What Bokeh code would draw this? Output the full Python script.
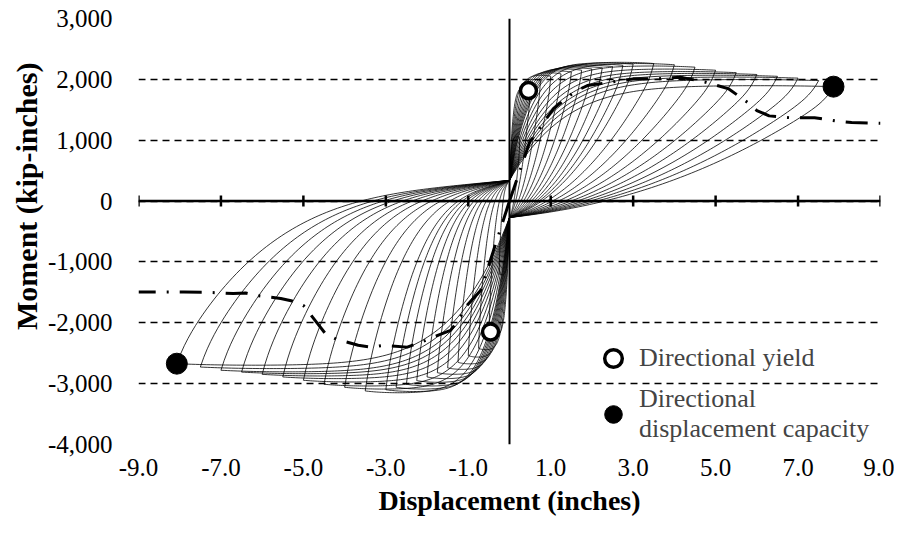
import numpy as np
from bokeh.plotting import figure
from bokeh.models import (Span, FixedTicker, Legend, LegendItem, Title,
                          NumeralTickFormatter)
from bokeh.embed import file_html
from bokeh.resources import INLINE

# ---------------- data ----------------
# cycle peak displacements (inches) and moments (kip-in)
pos_disp = [0.25, 0.5, 0.75, 1.0, 1.25, 1.5, 1.75, 2.0, 2.25, 2.5, 2.75, 3.0,
            3.5, 4.0, 4.5, 5.0, 5.5, 6.0, 6.5, 7.0, 7.5, 7.86]
pos_moment = [1050, 1850, 1980, 2050, 2090, 2120, 2150, 2170, 2190, 2210, 2230, 2250,
              2260, 2240, 2200, 2150, 2110, 2080, 2050, 2020, 1980, 1880]
neg_disp = [-0.25, -0.5, -0.75, -1.0, -1.25, -1.5, -1.75, -2.0, -2.25, -2.5, -2.75, -3.0,
            -3.5, -4.0, -4.5, -5.0, -5.5, -6.0, -6.5, -7.0, -7.5, -8.07]
neg_moment = [-1200, -2200, -2420, -2540, -2650, -2740, -2820, -2890, -2950, -3010, -3060, -3100,
              -3120, -3060, -3010, -2945, -2890, -2847, -2810, -2780, -2727, -2672]
pinch_upper = 340     # moment where the reloading branches cross x = 0
pinch_lower = -270

backbone_pos_x = [0, 0.5, 0.63, 0.8, 1.07, 1.36, 1.6, 1.89, 2.45, 2.73, 3.0, 3.6, 4.15,
                  4.76, 5.04, 5.32, 5.77, 6.0, 6.3, 6.8, 7.15, 7.4, 8.0, 8.3, 9.0]
backbone_pos_m = [0, 990, 1080, 1270, 1520, 1680, 1805, 1898, 1953, 1980, 2008, 2010, 2035,
                  1953, 1898, 1843, 1624, 1488, 1400, 1370, 1370, 1370, 1310, 1290, 1280]
backbone_neg_x = [0, -0.7, -1.03, -1.24, -1.43, -1.92, -2.2, -2.48, -3.05, -3.37, -3.67,
                  -4.2, -4.47, -4.66, -5.0, -5.27, -5.55, -6.15, -6.4, -6.7, -7.3, -7.9,
                  -8.47, -9.0]
backbone_neg_m = [0, -1468, -1714, -1960, -2125, -2255, -2333, -2400, -2370, -2400, -2370,
                  -2270, -2175, -2010, -1715, -1643, -1600, -1550, -1510, -1520, -1500,
                  -1496, -1496, -1496]

yield_x = [0.46, -0.46]
yield_m = [1816, -2152]
cap_x = [7.86, -8.07]
cap_m = [1880, -2672]

x_ticks = [-9, -7, -5, -3, -1, 1, 3, 5, 7, 9]
y_ticks = [-4000, -3000, -2000, -1000, 0, 1000, 2000, 3000]

FONT = "Liberation Serif"

# ---------------- build loop paths ----------------
t = np.linspace(0, 1, 90)
tr = t[::-1]
hook = 150
loop_xs, loop_ys = [], []
for dp, fp, dn, fn in zip(pos_disp, pos_moment, neg_disp, neg_moment):
    load = 1 - (1 - t) ** 6 + 0.1 * t ** 3 * (1 - t)
    # positive loading
    x1 = t * dp
    y1 = pinch_upper + (fp - pinch_upper) * load
    # positive unloading to lower pinch
    x2 = tr * dp
    y2 = pinch_lower + (fp - hook - pinch_lower) * (0.3 * tr + 0.7 * tr ** 2.2) + hook * tr ** 40
    # negative loading
    x3 = t * dn
    y3 = pinch_lower + (fn - pinch_lower) * load
    # negative unloading to upper pinch
    x4 = tr * dn
    y4 = pinch_upper + (fn + hook - pinch_upper) * (0.18 * tr + 0.82 * tr ** 3.8) - hook * tr ** 40
    loop_xs.append(np.concatenate([x1, x2, x3, x4]).tolist())
    loop_ys.append(np.concatenate([y1, y2, y3, y4]).tolist())

# ---------------- figure ----------------
p = figure(frame_width=742, frame_height=426, x_range=(-9, 9), y_range=(-4000, 3000),
           output_backend="svg", toolbar_location=None,
           min_border_left=138, min_border_top=18, min_border_bottom=80, min_border_right=14)
p.outline_line_color = None
p.background_fill_color = "white"

p.xgrid.visible = False
p.ygrid.ticker = FixedTicker(ticks=y_ticks)
p.ygrid.grid_line_color = "black"
p.ygrid.grid_line_dash = "7 5"
p.ygrid.grid_line_width = 1.5

for ax in (p.xaxis, p.yaxis):
    ax.axis_line_color = None
    ax.major_tick_line_color = None
    ax.minor_tick_line_color = None
    ax.major_label_text_font = FONT
    ax.major_label_text_font_size = "25px"
    ax.major_label_text_color = "black"

p.xaxis.ticker = FixedTicker(ticks=x_ticks)
p.xaxis.formatter = NumeralTickFormatter(format="0.0")
p.xaxis.major_label_standoff = 8
p.xaxis.axis_label = "Displacement (inches)"
p.xaxis.axis_label_text_font = FONT
p.xaxis.axis_label_text_font_style = "bold"
p.xaxis.axis_label_text_font_size = "28px"
p.xaxis.axis_label_text_color = "black"
p.xaxis.axis_label_standoff = 6

p.yaxis.ticker = FixedTicker(ticks=y_ticks)
p.yaxis.formatter = NumeralTickFormatter(format="0,0")
p.yaxis.major_label_standoff = 20

# loops
p.multi_line(loop_xs, loop_ys, line_color="black", line_width=0.8)

# axes lines through origin
p.add_layout(Span(location=0, dimension="width", line_color="black", line_width=2.5))
p.add_layout(Span(location=0, dimension="height", line_color="black", line_width=2))
p.scatter(x_ticks, [0] * len(x_ticks), marker="dash", angle=np.pi / 2, size=11,
          line_color="black", line_width=2.5)

# backbone
p.line(backbone_pos_x, backbone_pos_m, line_color="black", line_width=3, line_dash="22 11 2 11")
p.line(backbone_neg_x, backbone_neg_m, line_color="black", line_width=3, line_dash="22 11 2 11")

# markers
r_yield = p.scatter(yield_x, yield_m, marker="circle", size=16, fill_color="white",
                    line_color="black", line_width=3.5)
r_cap = p.scatter(cap_x, cap_m, marker="circle", size=21, fill_color="black",
                  line_color="black")

legend = Legend(items=[LegendItem(label="Directional yield", renderers=[r_yield]),
                       LegendItem(label="Directional\ndisplacement capacity", renderers=[r_cap])],
                location=(453, 0), glyph_width=44, glyph_height=44, spacing=4,
                padding=0, margin=0, label_standoff=4,
                label_text_font=FONT, label_text_font_size="26px",
                border_line_color=None, background_fill_alpha=0)
p.add_layout(legend, "center")

ytitle = Title(text="Moment (kip-inches)", align="right", offset=44, standoff=4,
               text_font=FONT, text_font_style="bold", text_font_size="30px",
               text_color="black")
p.add_layout(ytitle, "left")

open("out.html", "w").write(file_html(p, INLINE))
